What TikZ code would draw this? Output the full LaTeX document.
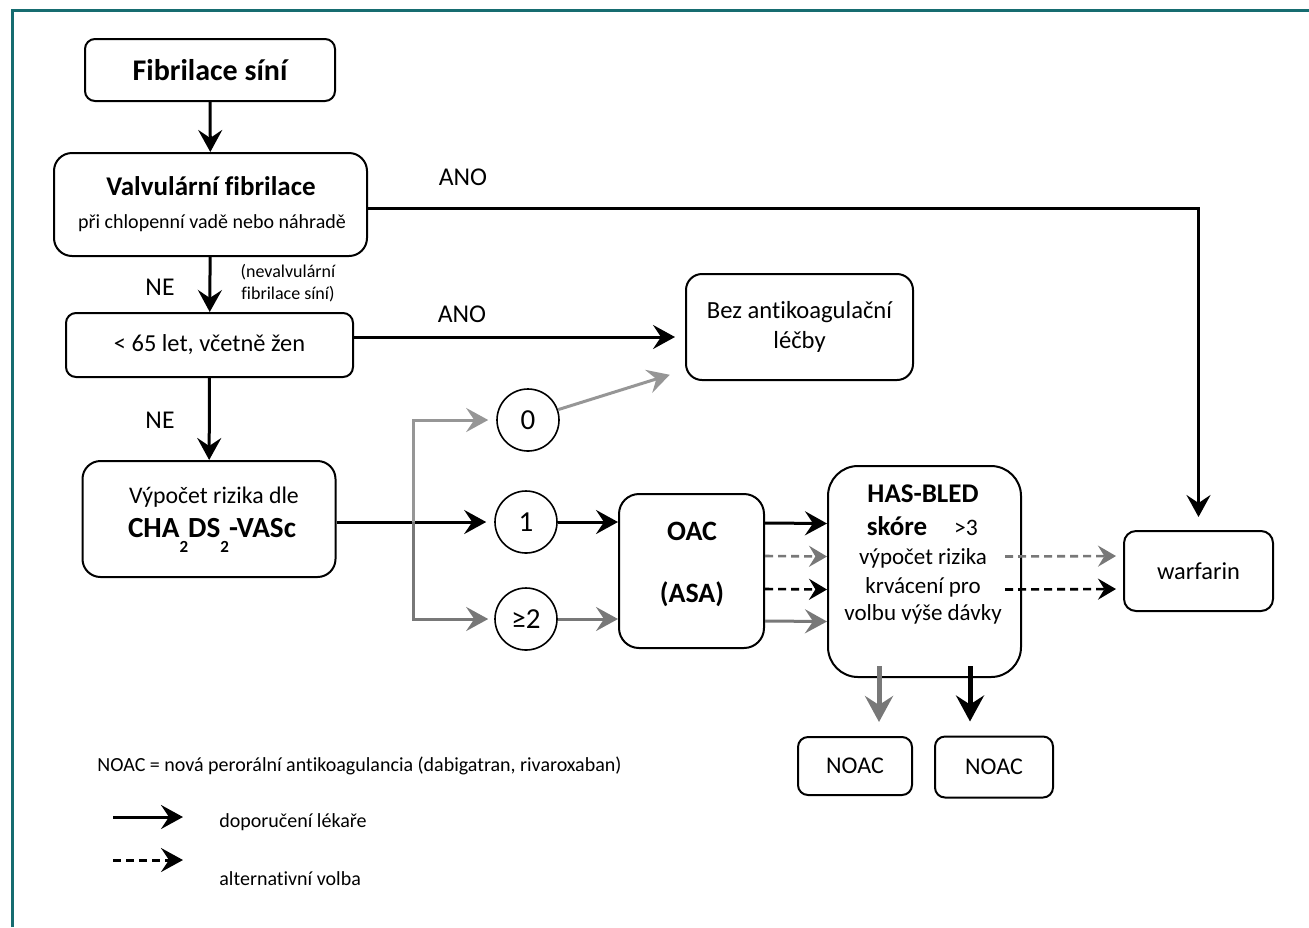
\documentclass[tikz,border=0pt]{standalone}
\usepackage{fontspec}
\setmainfont{Carlito}[Ligatures={NoCommon}]
\usetikzlibrary{arrows.meta}
\definecolor{framecol}{RGB}{22,108,112}
\definecolor{grayA}{RGB}{120,120,120}
\definecolor{grayB}{RGB}{150,150,150}
\newcommand{\fs}[1]{\fontsize{#1}{1.2\dimexpr#1pt\relax}\selectfont}

\begin{document}
\begin{tikzpicture}[x=0.5pt,y=-0.5pt,
	box/.style={draw,line width=1pt,rounded corners=#1,inner sep=0pt,align=center},
	box/.default=5pt,
	num/.style={draw,circle,line width=0.8pt,minimum size=31pt,inner sep=0pt,font=\fs{14.5}},
	txt/.style={anchor=base,inner sep=0pt},
	tip/.style={-{Stealth[length=11pt,width=12pt,inset=4pt]}},
	bigtip/.style={-{Stealth[length=13pt,width=14pt,inset=4.5pt]}},
	barr/.style={tip,line width=1.5pt,black},
	garr/.style={tip,line width=1.5pt,grayA},
	lgarr/.style={tip,line width=1.5pt,grayB},
	bdash/.style={-{Stealth[length=9pt,width=10.5pt,inset=3.2pt]},line width=1.3pt,black,dash pattern=on 4pt off 2.5pt},
	gdash/.style={-{Stealth[length=9pt,width=10.5pt,inset=3.2pt]},line width=1.3pt,grayA,dash pattern=on 4pt off 2.5pt}]
	\useasboundingbox (0,0) rectangle (1309,927);
	% frame
	\draw[framecol,line width=1.5pt] (12,927) -- (12,10) -- (1309,10);

	% boxes
	\node[box, minimum width=125pt, minimum height=31pt, font=\bfseries\fs{15}] (fib) at (210,70) {Fibrilace síní};
	\node[box=9pt, minimum width=156.5pt, minimum height=51.5pt] (valv) at (210.5,204.5) {};
	\node[box, minimum width=143.5pt, minimum height=32pt, font=\fs{12.2}] (age) at (209.5,345) {< 65 let, včetně žen};
	\node[box=9pt, minimum width=126.5pt, minimum height=58pt] (risk) at (209,519) {};
	\node[box=8pt, minimum width=113.5pt, minimum height=53pt, font=\fs{12.3}] (bez) at (799.5,327) {Bez antikoagulační\\[0pt]léčby};
	\node[num] (c0) at (528,420) {0};
	\node[num] (c1) at (526,522) {1};
	\node[num] (c2) at (526,619) {≥2};
	\node[box=10pt, minimum width=72.5pt, minimum height=77pt] (oac) at (691.5,571) {};
	\node[box=15pt, minimum width=96.5pt, minimum height=105.5pt] (has) at (924.5,571.5) {};
	\node[box=6pt, minimum width=74.5pt, minimum height=40pt, font=\fs{12.2}] (warf) at (1198.5,571) {warfarin};
	\node[box, minimum width=57pt, minimum height=29pt, font=\fs{12}] (noacA) at (855,766) {NOAC};
	\node[box, minimum width=59pt, minimum height=30.5pt, font=\fs{12}] (noacB) at (994,767) {NOAC};

	% texts in boxes
	\node[txt, font=\bfseries\fs{13.5}] (valvT) at (211,195) {Valvulární fibrilace};
	\node[txt, font=\fs{10}] (valvS) at (212,228) {při chlopenní vadě nebo náhradě};
	\node[txt, font=\fs{11.9}] (riskT) at (214,503) {Výpočet rizika dle};
	\node[txt, font=\bfseries\fs{14.6}] (riskS) at (212,537)
		{CHA\raisebox{-7.5pt}{\fs{8.5}2}DS\raisebox{-7.5pt}{\fs{8.5}2}-VASc};
	\node[txt, font=\bfseries\fs{14}] (oacT) at (692,540) {OAC};
	\node[txt, font=\bfseries\fs{14}] (oacS) at (692,602) {(ASA)};
	\node[txt, font=\bfseries\fs{13.5}] (hasT) at (923,502) {HAS-BLED};
	\node[txt, font=\bfseries\fs{13.5}] (hasS) at (897,535) {skóre};
	\node[txt, font=\fs{11.8}] (hasG) at (966,535) {>3};
	\node[txt, font=\fs{11.5}] (hasA) at (923,564) {výpočet rizika};
	\node[txt, font=\fs{11.5}] (hasB) at (923,593) {krvácení pro};
	\node[txt, font=\fs{11.5}] (hasC) at (923,620) {volbu výše dávky};

	% labels
	\node[txt, font=\fs{12.8}] (ano1) at (463,185) {ANO};
	\node[txt, font=\fs{12.8}] (ano2) at (462,322) {ANO};
	\node[txt, font=\fs{12.8}] (ne1) at (160,295) {NE};
	\node[txt, font=\fs{12.8}] (ne2) at (160,428) {NE};
	\node[txt, font=\fs{9}, align=center] (nevalv) at (288,299) {(nevalvulární\\fibrilace síní)};

	% connectors
	\draw[barr] (fib) -- (valv);
	\draw[barr] (valv) -- (age);
	\draw[barr] (age) -- (risk);
	\draw[barr, shorten >=6.5pt] ([yshift=-2pt]valv.east) -| (warf.north);
	\draw[barr, shorten >=5pt] ([yshift=4pt]age.east) -- ([yshift=4pt]age.east -| bez.west);
	\draw[barr, shorten >=4pt] (risk.east |- c1) -- (c1.west);
	\coordinate (split) at (413,522);
	\draw[lgarr, shorten >=4pt] (split) |- (c0.west);
	\draw[garr, shorten >=3pt] (split) |- (c2.west);
	\draw[lgarr, shorten >=8pt] (c0.19) -- ([yshift=5.5pt]bez.south west);
	\draw[barr] (c1.east) -- (c1.east -| oac.west);
	\draw[garr] (c2.east) -- (c2.east -| oac.west);
	\foreach \s/\st in {24pt/barr, 7.5pt/gdash, -9pt/bdash, -25pt/garr}{
		\draw[\st] ([yshift=\s]oac.east) -- ([yshift=\s]has.west);
	}
	\foreach \s/\st in {7.5pt/gdash, -9pt/bdash}{
		\draw[\st, shorten >=3.5pt] ([xshift=-8.5pt,yshift=\s]has.east) -- ([yshift=\s]warf.west);
	}
	\coordinate (hasL) at ([xshift=-22.75pt,yshift=6pt]has.south);
	\coordinate (hasR) at ([xshift=22.75pt,yshift=6pt]has.south);
	\draw[garr, bigtip, line width=2.5pt, shorten >=7pt] (hasL) -- (hasL |- noacA.north);
	\draw[barr, bigtip, line width=2.5pt, shorten >=7pt] (hasR) -- (hasR |- noacB.north);

	% legend
	\node[txt, anchor=base west, font=\fs{10}] (legN) at (97,771) {NOAC = nová perorální antikoagulancia (dabigatran, rivaroxaban)};
	\coordinate (legAa) at (113,817);
	\coordinate (legAb) at (183,817);
	\coordinate (legBa) at (113,860);
	\coordinate (legBb) at (183,860);
	\draw[barr] (legAa) -- (legAb);
	\draw[bdash, line width=1.5pt, tip] (legBa) -- (legBb);
	\node[txt, anchor=base west, font=\fs{10}] (legA) at (219,827) {doporučení lékaře};
	\node[txt, anchor=base west, font=\fs{10}] (legB) at (219,885) {alternativní volba};
\end{tikzpicture}
\end{document}
